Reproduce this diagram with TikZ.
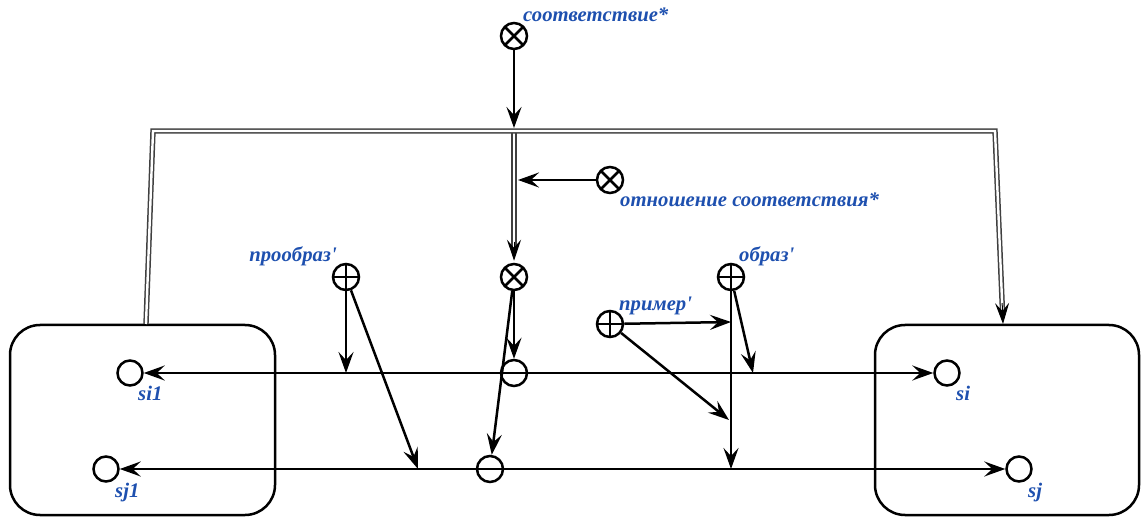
\documentclass[tikz,border=0pt]{standalone}
\usepackage{fontspec}
\setmainfont{Liberation Serif}
\usetikzlibrary{arrows.meta,calc}
\definecolor{lblue}{RGB}{30,80,175}
\begin{document}
\begin{tikzpicture}[x=1pt,y=-1pt,
  arr/.style={line width=2.5pt,-{Stealth[length=21pt,width=15pt,inset=8pt]}},
  dtip/.style={line width=1pt,-{Stealth[length=21pt,width=14pt,inset=8pt]}},
  dbl/.style={draw=black!75,double=white,double distance=2.4pt,line width=1.5pt},
  sym/.style={circle,draw,line width=2.5pt,minimum size=26pt,inner sep=0pt,fill=white},
  timesym/.style={sym,path picture={\draw[line width=2.5pt]
     (path picture bounding box.south west) -- (path picture bounding box.north east)
     (path picture bounding box.north west) -- (path picture bounding box.south east);}},
  plussym/.style={sym,path picture={\draw[line width=2.5pt]
     (path picture bounding box.north) -- (path picture bounding box.south)
     (path picture bounding box.west) -- (path picture bounding box.east);}},
  minussym/.style={sym,path picture={\draw[line width=2.5pt]
     (path picture bounding box.west) -- (path picture bounding box.east);}},
  state/.style={circle,draw,line width=2.5pt,minimum size=25pt,inner sep=0pt,fill=white},
  lbl/.style={text=lblue,font=\fontsize{20.7}{24}\selectfont\bfseries\itshape,inner sep=0pt},
  box/.style={draw,line width=2.5pt,rounded corners=30pt}
]
\useasboundingbox (0,0) rectangle (1143,518);

% boxes
\node[box,minimum width=265pt,minimum height=190pt] (L) at (142.5,420) {};
\node[box,minimum width=264pt,minimum height=190pt] (R) at (1007,420) {};

% coordinates of the double connector
\coordinate (dL) at (146,324);
\coordinate (dLc) at (153,131);
\coordinate (dRc) at (995,131);
\coordinate (dR) at (1003,324);
\coordinate (dC) at (514,131);
\coordinate (dCtop) at (514,128);
\coordinate (relT) at (518,180);

% symbols
\node[timesym] (corr) at (514,36) {};
\node[timesym] (rel) at (610,180) {};
\node[timesym] (cx) at (514,277) {};
\node[plussym] (pre) at (346,277) {};
\node[plussym] (img) at (731,277) {};
\node[plussym] (ex) at (610,324) {};
\node[minussym] (m1) at (514,373) {};
\node[minussym] (m2) at (490,469) {};
\node[state] (si1) at (130,373) {};
\node[state] (sj1) at (106,469) {};
\node[state] (si) at (947,373) {};
\node[state] (sj) at (1019,469) {};

% double connector
\draw[dbl] (dC) -- ($(cx.north)!13pt!(dC)$);
\draw[dtip] ($(cx.north)!21pt!(dC)$) -- ($(cx.north)!2pt!(dC)$);
\draw[dbl] (dL) -- (dLc) -- (dRc) -- ($(dR)!13pt!(dRc)$);
\draw[dtip] ($(dR)!21pt!(dRc)$) -- (dR);

% single arrows
\draw[arr] (corr) -- (dCtop);
\draw[arr] (rel) -- (relT);
\draw[arr] (cx) -- (m1);
\draw[arr] (cx) -- (m2);

\coordinate (p1) at (346,373);
\coordinate (p2) at (418,469);
\draw[arr] (pre) -- (p1);
\draw[arr] (pre) -- (p2);

\coordinate (i1) at (731,469);
\coordinate (i2) at (753,373);
\draw[arr] (img) -- (i1);
\draw[arr] (img) -- (i2);

\coordinate (e1) at (731,322);
\coordinate (e2) at (729,420);
\draw[arr] (ex) -- (e1);
\draw[arr] (ex) -- (e2);

\draw[arr] (m1) -- (si1);
\draw[arr] (m1) -- (si);
\draw[arr] (m2) -- (sj1);
\draw[arr] (m2) -- (sj);

% labels
\node[lbl,anchor=base west] (lcorr) at (523,22) {соответствие*};
\node[lbl,anchor=base west] (lrel) at (620,207) {отношение соответствия*};
\node[lbl,anchor=base east] (lpre) at (337,262) {прообраз\textquotesingle};
\node[lbl,anchor=base west] (limg) at (739,262) {образ\textquotesingle};
\node[lbl,anchor=base west] (lex) at (619,311) {пример\textquotesingle};
\node[lbl,anchor=base west] (lsi1) at (138,400) {si1};
\node[lbl,anchor=base west] (lsj1) at (115,497) {sj1};
\node[lbl,anchor=base west] (lsi) at (956,400) {si};
\node[lbl,anchor=base west] (lsj) at (1028,497) {sj};
\end{tikzpicture}
\end{document}
